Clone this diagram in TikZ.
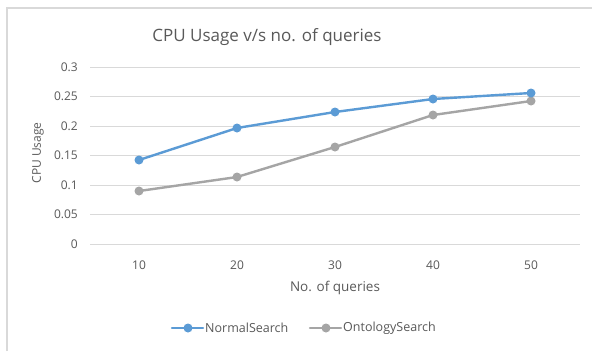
\documentclass[tikz,border=0pt]{standalone}
\usepackage{fontspec}
\setmainfont{Open Sans}
\usetikzlibrary{positioning}
\definecolor{serA}{HTML}{5B9BD5}
\definecolor{serB}{HTML}{A5A5A5}
\definecolor{txtgray}{HTML}{595959}
\definecolor{gridgray}{HTML}{D9D9D9}
\tikzset{
  lbl/.style={font=\fontsize{12}{14}\selectfont, text=txtgray, inner sep=0pt},
  serline/.style={line width=2.4pt, line cap=round, line join=round},
  dot/.style={circle, inner sep=0pt, minimum size=9pt}
}
\begin{document}
\begin{tikzpicture}[x=1pt, y=-1pt]
\useasboundingbox (0,0) rectangle (592,351);
\fill[white] (0,0) rectangle (592,351);
\draw[gridgray, line width=1.2pt] (7,351) -- (7,8) -- (592,8);
\node[lbl, font=\fontsize{17}{20}\selectfont] (title) at (267,37) {CPU Usage v/s no. of queries};
\foreach \v/\t in {0/0,1/0.05,2/0.1,3/0.15,4/0.2,5/0.25,6/0.3} {
  \draw[gridgray, line width=0.8pt] (90,244-29.5*\v) -- (580,244-29.5*\v);
  \node[lbl, anchor=east] (yt\v) at (78,244-29.5*\v) {\t};
}
\foreach \i/\t in {0/10,1/20,2/30,3/40,4/50}
  \node[lbl] (xt\i) at (139+98*\i,265) {\t};
\node[lbl, font=\fontsize{13.5}{16}\selectfont] (xtitle) at (335,288) {No. of queries};
\node[lbl, rotate=90] (ytitle) at (38,153) {CPU Usage};
\draw[serB, serline] (139,191) -- (237,177) -- (335,147) -- (433,115) -- (531,101);
\foreach \x/\y in {139/191,237/177,335/147,433/115,531/101}
  \node[dot, fill=serB] at (\x,\y) {};
\draw[serA, serline] (139,160) -- (237,128) -- (335,112) -- (433,99) -- (531,93);
\foreach \x/\y in {139/160,237/128,335/112,433/99,531/93}
  \node[dot, fill=serA] at (\x,\y) {};
\node[dot, fill=serA] (legA) at (188,328) {};
\draw[serA, serline] (172,328) -- (203,328);
\node[lbl, anchor=west, font=\fontsize{12.5}{14}\selectfont] (legAt) at (205,328) {NormalSearch};
\node[dot, fill=serB] (legB) at (326,328) {};
\draw[serB, serline] (310,328) -- (341,328);
\node[lbl, anchor=west, font=\fontsize{12.5}{14}\selectfont] (legBt) at (343,328) {OntologySearch};
\end{tikzpicture}
\end{document}
